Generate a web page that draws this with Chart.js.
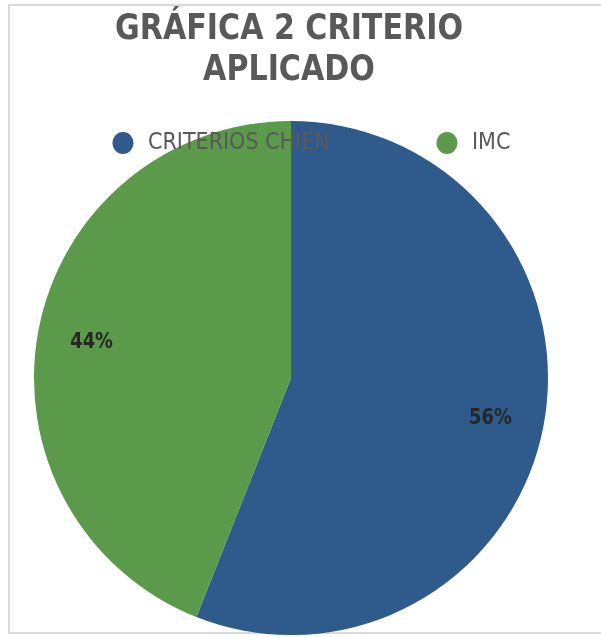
<!DOCTYPE html>
<html>
<head>
<meta charset="utf-8">
<script src="https://cdn.jsdelivr.net/npm/chart.js@4"></script>
<style>
  html, body { margin: 0; padding: 0; background: #fff; overflow: hidden; }
  #wrap { position: relative; width: 601px; height: 637px; overflow: hidden; }
  #frame { position: absolute; left: 8px; top: 4px; width: 640px; height: 630px; border: 2px solid #d9d9d9; box-sizing: border-box; }
  canvas { position: absolute; left: 0; top: 0; }
</style>
</head>
<body>
<div id="wrap">
  <div id="frame"></div>
  <canvas id="pie" width="601" height="637"></canvas>
</div>
<script>
const TITLE_LINES = ['GRÁFICA 2 CRITERIO', 'APLICADO'];
const LABELS = ['CRITERIOS CHIEN', 'IMC'];
const VALUES = [56, 44];
const COLORS = ['#2e5a8c', '#5b9a4a'];

const FONT = '"DejaVu Sans Condensed", "DejaVu Sans", sans-serif';

// draws text squeezed horizontally around x
function squeezed(ctx, text, x, y, sx) {
  ctx.save();
  ctx.translate(x, y);
  ctx.scale(sx, 1);
  ctx.fillText(text, 0, 0);
  ctx.restore();
}

// title, legend and percent labels drawn on top of the pie
const overlay = {
  id: 'overlay',
  afterDatasetsDraw(chart) {
    const ctx = chart.ctx;
    const meta = chart.getDatasetMeta(0);
    const total = VALUES.reduce((s, v) => s + v, 0);

    ctx.save();
    ctx.textAlign = 'center';
    ctx.textBaseline = 'alphabetic';
    ctx.fillStyle = '#262626';
    ctx.font = 'bold 22px ' + FONT;
    meta.data.forEach((arc, i) => {
      const mid = (arc.startAngle + arc.endAngle) / 2;
      const r = arc.outerRadius * 0.79;
      const x = arc.x + Math.cos(mid) * r;
      const y = arc.y + Math.sin(mid) * r;
      squeezed(ctx, Math.round(VALUES[i] / total * 100) + '%', x, y + 8, 0.9);
    });

    ctx.fillStyle = '#595959';
    ctx.font = 'bold 36px ' + FONT;
    TITLE_LINES.forEach((t, i) => squeezed(ctx, t, 289, 39 + i * 41, 0.93));

    ctx.textAlign = 'left';
    ctx.font = '23px ' + FONT;
    const legendX = [123, 447];
    LABELS.forEach((l, i) => {
      ctx.fillStyle = COLORS[i];
      ctx.beginPath();
      ctx.ellipse(legendX[i], 143, 10.5, 11, 0, 0, Math.PI * 2);
      ctx.fill();
      ctx.fillStyle = '#595959';
      ctx.fillText(l, legendX[i] + 25, 149);
    });
    ctx.restore();
  }
};

new Chart(document.getElementById('pie'), {
  type: 'pie',
  data: {
    labels: LABELS,
    datasets: [{
      data: VALUES,
      backgroundColor: COLORS,
      borderWidth: 0,
    }]
  },
  options: {
    responsive: false,
    animation: false,
    layout: { padding: { left: 34, right: 53, top: 121, bottom: 2 } },
    plugins: {
      legend: { display: false },
      title: { display: false },
      tooltip: { enabled: false },
    }
  },
  plugins: [overlay]
});
</script>
</body>
</html>
